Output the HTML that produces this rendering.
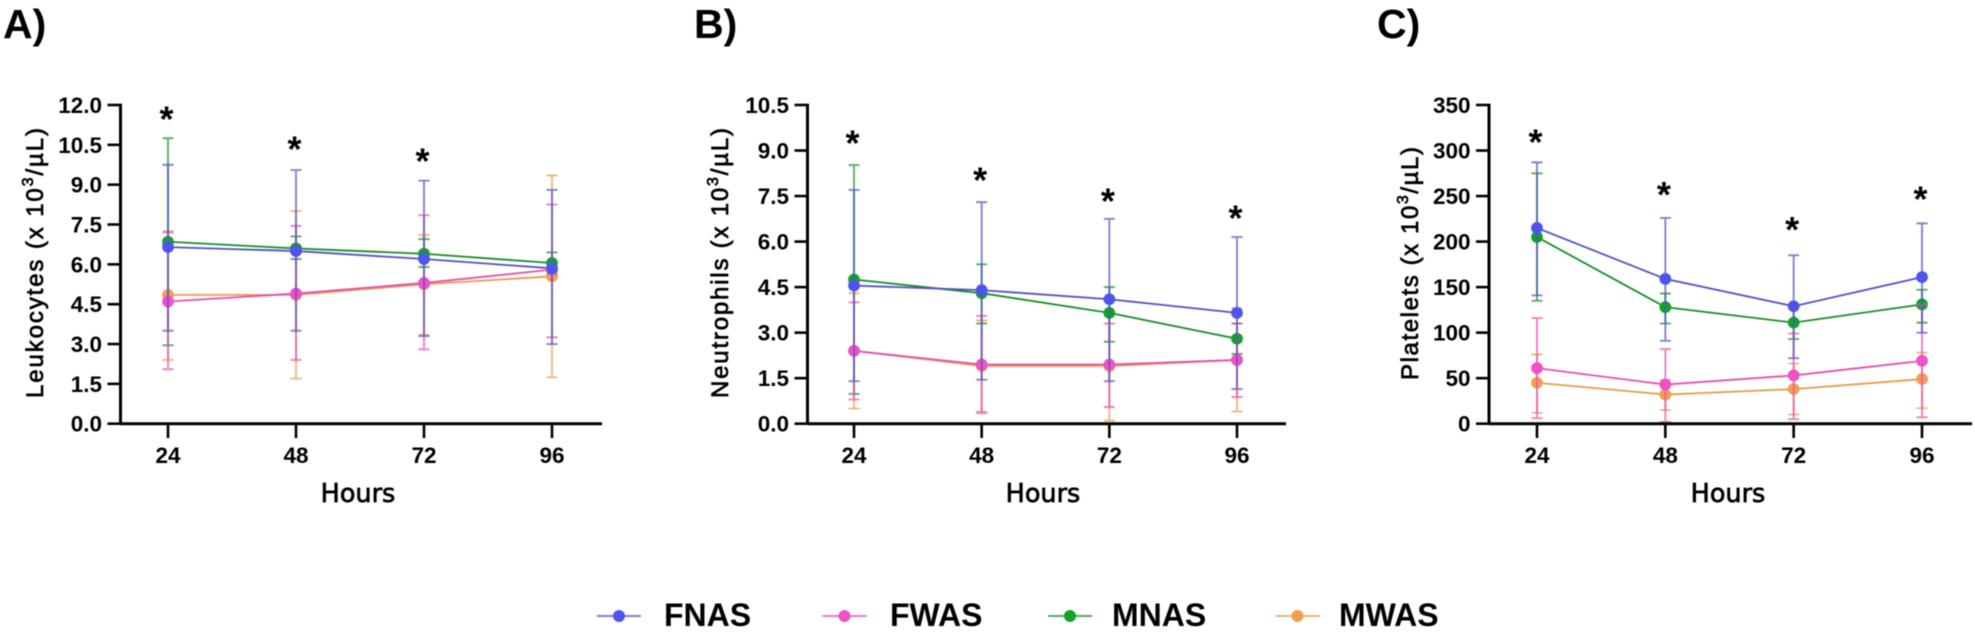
<!DOCTYPE html>
<html lang="en">
<head>
<meta charset="utf-8">
<title>Leukocytes, neutrophils and platelets over time</title>
<style>
html,body{margin:0;padding:0;background:#fff;width:1975px;height:644px;overflow:hidden}
svg{display:block;filter:blur(.55px)}
text{font-family:"Liberation Sans",Arial,sans-serif;fill:#000}
.tick{font-size:22.5px;font-weight:700}
.ytitle{font-size:24px;stroke:#000;stroke-width:.7px}
.hours{font-family:"DejaVu Sans","Liberation Sans",sans-serif;font-size:25.5px;stroke:#000;stroke-width:.7px}
.letter{font-size:41px;font-weight:700}
.star{font-size:36px;font-weight:700}
.legend-label{font-size:32px;font-weight:700}
</style>
</head>
<body>
<svg id="figure" xmlns="http://www.w3.org/2000/svg" width="1975" height="644" viewBox="0 0 1975 644">
  <rect width="1975" height="644" fill="#fff"/>
  <g id="plots"></g>
  <g id="legend"></g>
</svg>
<script>
const hours = [24, 48, 72, 96];
const seriesNames = ['MWAS', 'MNAS', 'FWAS', 'FNAS'];
const legendNames = ['FNAS', 'FWAS', 'MNAS', 'MWAS'];

/* Panel A: leukocytes */
const leukoTicks = ['0.0', '1.5', '3.0', '4.5', '6.0', '7.5', '9.0', '10.5', '12.0'];
const leukoStars = [11.66, 10.53, 10.08, null];
const leukoFnasMean = [6.65, 6.5, 6.2, 5.85];
const leukoFnasLow = [3.5, 3.5, 3.3, 3.0];
const leukoFnasHigh = [9.75, 9.55, 9.15, 8.8];
const leukoFwasMean = [4.6, 4.9, 5.3, 5.8];
const leukoFwasLow = [2.05, 2.4, 2.8, 3.25];
const leukoFwasHigh = [7.2, 7.45, 7.85, 8.25];
const leukoMnasMean = [6.85, 6.6, 6.4, 6.05];
const leukoMnasLow = [2.95, 6.2, 5.9, 5.65];
const leukoMnasHigh = [10.75, 7.05, 6.95, 6.45];
const leukoMwasMean = [4.85, 4.85, 5.25, 5.55];
const leukoMwasLow = [2.4, 1.7, 3.35, 1.75];
const leukoMwasHigh = [7.25, 8.0, 7.1, 9.35];

/* Panel B: neutrophils */
const neutroTicks = ['0.0', '1.5', '3.0', '4.5', '6.0', '7.5', '9.0', '10.5'];
const neutroStars = [9.41, 8.2, 7.5, 6.95];
const neutroFnasMean = [4.55, 4.4, 4.1, 3.65];
const neutroFnasLow = [1.4, 1.45, 1.4, 1.14];
const neutroFnasHigh = [7.7, 7.3, 6.75, 6.15];
const neutroFwasMean = [2.4, 1.95, 1.95, 2.1];
const neutroFwasLow = [0.8, 0.35, 0.55, 0.88];
const neutroFwasHigh = [4.0, 3.55, 3.3, 3.3];
const neutroMnasMean = [4.75, 4.3, 3.65, 2.8];
const neutroMnasLow = [0.98, 3.3, 2.7, 2.3];
const neutroMnasHigh = [8.52, 5.25, 4.5, 3.3];
const neutroMwasMean = [2.4, 1.9, 1.9, 2.1];
const neutroMwasLow = [0.5, 0.4, 0.1, 0.4];
const neutroMwasHigh = [4.3, 3.4, 3.7, 3.8];

/* Panel C: platelets */
const plateTicks = ['0', '50', '100', '150', '200', '250', '300', '350'];
const plateStars = [315, 257, 219, 252];
const plateFnasMean = [215, 159, 129, 161];
const plateFnasLow = [141, 91, 72, 100];
const plateFnasHigh = [287, 226, 185, 220];
const plateFwasMean = [61, 43, 53, 69];
const plateFwasLow = [6, 2, 5, 7];
const plateFwasHigh = [116, 82, 99, 131];
const plateMnasMean = [205, 128, 111, 131];
const plateMnasLow = [135, 110, 93, 111];
const plateMnasHigh = [275, 143, 129, 147];
const plateMwasMean = [45, 32, 38, 49];
const plateMwasLow = [12, 15, 10, 17];
const plateMwasHigh = [76, 48, 66, 78];

const colors = {
  FNAS: {line: '#5252c4', mark: '#4f55ec'},
  FWAS: {line: '#e84fb0', mark: '#f050c8'},
  MNAS: {line: '#1a8f28', mark: '#12a425'},
  MWAS: {line: '#e89c48', mark: '#f2a050'}
};

const panels = [
  {key: 'a', letter: 'A)', letterX: 3, axisX: 120.5, x24: 168, x96: 552, xEnd: 602, titleX: 43, titleMid: 263, titleLen: 270,
   title: 'Leukocytes (x 10', ticks: leukoTicks, stars: leukoStars, max: 12, hoursMid: 358,
   data: {FNAS: [leukoFnasMean, leukoFnasLow, leukoFnasHigh], FWAS: [leukoFwasMean, leukoFwasLow, leukoFwasHigh],
          MNAS: [leukoMnasMean, leukoMnasLow, leukoMnasHigh], MWAS: [leukoMwasMean, leukoMwasLow, leukoMwasHigh]}},
  {key: 'b', letter: 'B)', letterX: 694, axisX: 807.5, x24: 854, x96: 1237, xEnd: 1286, titleX: 728, titleMid: 263, titleLen: 270,
   title: 'Neutrophils (x 10', ticks: neutroTicks, stars: neutroStars, max: 10.5, hoursMid: 1043,
   data: {FNAS: [neutroFnasMean, neutroFnasLow, neutroFnasHigh], FWAS: [neutroFwasMean, neutroFwasLow, neutroFwasHigh],
          MNAS: [neutroMnasMean, neutroMnasLow, neutroMnasHigh], MWAS: [neutroMwasMean, neutroMwasLow, neutroMwasHigh]}},
  {key: 'c', letter: 'C)', letterX: 1377, axisX: 1489, x24: 1537, x96: 1922, xEnd: 1972, titleX: 1418, titleMid: 263.5, titleLen: 233,
   title: 'Platelets (x 10', ticks: plateTicks, stars: plateStars, max: 350, hoursMid: 1728,
   data: {FNAS: [plateFnasMean, plateFnasLow, plateFnasHigh], FWAS: [plateFwasMean, plateFwasLow, plateFwasHigh],
          MNAS: [plateMnasMean, plateMnasLow, plateMnasHigh], MWAS: [plateMwasMean, plateMwasLow, plateMwasHigh]}}
];

const SVGNS = 'http://www.w3.org/2000/svg';
const Y_TOP = 105;
const Y_ZERO = 423.7;

function make(parent, tag, props) {
  const node = document.createElementNS(SVGNS, tag);
  for (const k in props) node.setAttribute(k, props[k]);
  parent.appendChild(node);
  return node;
}
function yScale(panel, v) {
  return Y_ZERO - (v / panel.max) * (Y_ZERO - Y_TOP);
}
function xScale(panel, h) {
  return panel.x24 + (h - hours[0]) / (hours[hours.length - 1] - hours[0]) * (panel.x96 - panel.x24);
}

const plots = document.getElementById('plots');
panels.forEach(function (p) {
  const group = make(plots, 'g', {});
  
  

  const letter = make(group, 'text', {x: p.letterX, y: 38, class: 'letter'});
  letter.textContent = p.letter;
  
  

  /* series */
  seriesNames.forEach(function (name) {
    const d = p.data[name];
    const sg = make(group, 'g', {});
    
    
    hours.forEach(function (h, i) {
      const x = xScale(p, h);
      const yl = yScale(p, d[1][i]);
      const yh = yScale(p, d[2][i]);
      const bar = make(sg, 'path', {
        d: 'M' + x + ' ' + yl + 'V' + yh + 'M' + (x - 5.5) + ' ' + yl + 'H' + (x + 5.5) + 'M' + (x - 5.5) + ' ' + yh + 'H' + (x + 5.5),
        fill: 'none', stroke: colors[name].line, 'stroke-width': 1.9, opacity: 0.72
      });
      
      
    });
    const pts = hours.map(function (h, i) { return xScale(p, h) + ',' + yScale(p, d[0][i]); }).join(' ');
    const line = make(sg, 'polyline', {points: pts, fill: 'none', stroke: colors[name].line, 'stroke-width': 1.8});
    
    
    hours.forEach(function (h, i) {
      const dot = make(sg, 'circle', {cx: xScale(p, h), cy: yScale(p, d[0][i]), r: 5.9, fill: colors[name].mark});
      
      
    });
  });

  /* axes */
  const yAxis = make(group, 'line', {x1: p.axisX, x2: p.axisX, y1: Y_TOP - 1.3, y2: Y_ZERO + 1.3, stroke: '#000', 'stroke-width': 3});
  
  
  const xAxis = make(group, 'line', {x1: p.axisX, x2: p.xEnd, y1: Y_ZERO, y2: Y_ZERO, stroke: '#000', 'stroke-width': 3});
  
  

  p.ticks.forEach(function (t) {
    const y = yScale(p, parseFloat(t));
    const tick = make(group, 'line', {x1: p.axisX - 13, x2: p.axisX, y1: y, y2: y, stroke: '#000', 'stroke-width': 2.6});
    
    
    const label = make(group, 'text', {x: p.axisX - 18.5, y: y + 8, 'text-anchor': 'end', class: 'tick'});
    label.textContent = t;
    
    
  });

  hours.forEach(function (h) {
    const x = xScale(p, h);
    const tick = make(group, 'line', {x1: x, x2: x, y1: Y_ZERO, y2: 438, stroke: '#000', 'stroke-width': 2.6});
    
    
    const label = make(group, 'text', {x: x, y: 463, 'text-anchor': 'middle', class: 'tick'});
    label.textContent = String(h);
    
    
  });

  /* significance stars */
  hours.forEach(function (h, i) {
    if (p.stars[i] === null) return;
    const star = make(group, 'text', {x: xScale(p, h) - 1.5, y: yScale(p, p.stars[i]) + 17.5, 'text-anchor': 'middle', class: 'star'});
    star.textContent = '*';
    
    
  });

  /* titles */
  const hoursTitle = make(group, 'text', {x: p.hoursMid, y: 502, 'text-anchor': 'middle', class: 'hours'});
  hoursTitle.textContent = 'Hours';
  
  

  const yTitle = make(group, 'text', {
    transform: 'translate(' + p.titleX + ' ' + p.titleMid + ') rotate(-90)',
    'text-anchor': 'middle', class: 'ytitle', textLength: p.titleLen, lengthAdjust: 'spacing'
  });
  
  
  const t1 = make(yTitle, 'tspan', {});
  t1.textContent = p.title;
  const t2 = make(yTitle, 'tspan', {dy: -10, 'font-size': 16});
  t2.textContent = '3';
  const t3 = make(yTitle, 'tspan', {dy: 10});
  t3.textContent = '/\u00B5L)';
});

/* legend */
const legend = document.getElementById('legend');
const legendLineStarts = [597, 822.5, 1048, 1275.5];
const legendTextStarts = [664, 890, 1112, 1339];
legendNames.forEach(function (name, i) {
  const g = make(legend, 'g', {});
  
  
  const x0 = legendLineStarts[i];
  const line = make(g, 'line', {x1: x0, x2: x0 + 44, y1: 616, y2: 616, stroke: colors[name].line, 'stroke-width': 2, opacity: 0.75});
  
  
  const dot = make(g, 'circle', {cx: x0 + 22, cy: 616, r: 6, fill: colors[name].mark});
  
  
  const label = make(g, 'text', {x: legendTextStarts[i], y: 626, class: 'legend-label'});
  label.textContent = name;
  
  
});
</script>
</body>
</html>
